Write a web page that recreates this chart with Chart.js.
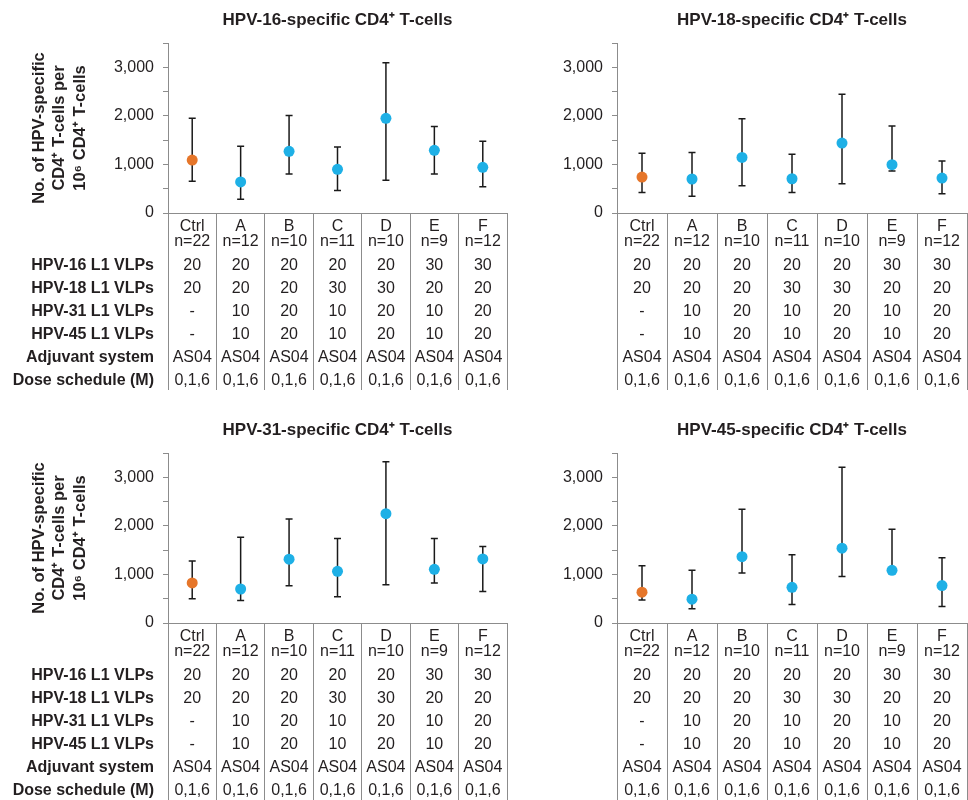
<!DOCTYPE html>
<html>
<head>
<meta charset="utf-8">
<script src="https://cdn.jsdelivr.net/npm/chart.js@4.4.1/dist/chart.umd.min.js"></script>
<style>
  body { margin: 0; background: #fff; overflow: hidden; }
  .panel { position: absolute; }
</style>
</head>
<body>
<div class="panel" style="left:0;top:0;width:540px;height:390px"><canvas id="c16"></canvas></div>
<div class="panel" style="left:540px;top:0;width:428px;height:390px"><canvas id="c18"></canvas></div>
<div class="panel" style="left:0;top:410px;width:540px;height:390px"><canvas id="c31"></canvas></div>
<div class="panel" style="left:540px;top:410px;width:428px;height:390px"><canvas id="c45"></canvas></div>
<script>
// groups and their sizes
const categories = ['Ctrl', 'A', 'B', 'C', 'D', 'E', 'F'];
const groupSizes = ['n=22', 'n=12', 'n=10', 'n=11', 'n=10', 'n=9', 'n=12'];

// formulation table under each panel
const rowLabels = ['HPV-16 L1 VLPs', 'HPV-18 L1 VLPs', 'HPV-31 L1 VLPs', 'HPV-45 L1 VLPs', 'Adjuvant system', 'Dose schedule (M)'];
const hpv16Dose = ['20', '20', '20', '20', '20', '30', '30'];
const hpv18Dose = ['20', '20', '20', '30', '30', '20', '20'];
const hpv31Dose = ['-', '10', '20', '10', '20', '10', '20'];
const hpv45Dose = ['-', '10', '20', '10', '20', '10', '20'];
const adjuvant = ['AS04', 'AS04', 'AS04', 'AS04', 'AS04', 'AS04', 'AS04'];
const schedule = ['0,1,6', '0,1,6', '0,1,6', '0,1,6', '0,1,6', '0,1,6', '0,1,6'];

// y axis
const yMin = 0;
const yMax = 3500;
const yStep = 500;
const yLabelEvery = 1000;
const yTitle = ['No. of HPV-specific', 'CD4\u207A T-cells per', '10\u2076 CD4\u207A T-cells'];

// HPV-16
const mean16 = [1090, 640, 1270, 900, 1950, 1290, 940];
const lower16 = [655, 285, 805, 465, 675, 805, 540];
const upper16 = [1950, 1375, 2005, 1360, 3095, 1780, 1475];
// HPV-18
const mean18 = [740, 700, 1145, 705, 1440, 995, 720];
const lower18 = [420, 345, 560, 420, 600, 865, 395];
const upper18 = [1230, 1245, 1940, 1210, 2445, 1790, 1070];
// HPV-31
const mean31 = [825, 700, 1315, 1065, 2250, 1105, 1320];
const lower31 = [500, 465, 765, 540, 785, 825, 650];
const upper31 = [1275, 1765, 2140, 1740, 3320, 1740, 1575];
// HPV-45
const mean45 = [635, 490, 1365, 735, 1540, 1085, 770];
const lower45 = [475, 295, 1030, 380, 955, 1050, 340];
const upper45 = [1180, 1085, 2340, 1405, 3205, 1930, 1345];

const FONT = "'Liberation Sans', Arial, sans-serif";
const TEXT = '#231f20';
const AXIS = '#8c8c8c';
const BLUE = '#1eb0e6';
const ORANGE = '#e6762a';

Chart.defaults.font.family = FONT;
Chart.defaults.color = TEXT;

const tableRows = [hpv16Dose, hpv18Dose, hpv31Dose, hpv45Dose, adjuvant, schedule];

function errorBars(lower, upper) {
  return {
    id: 'errorBars',
    beforeDatasetsDraw(chart) {
      const ctx = chart.ctx;
      const y = chart.scales.y;
      const pts = chart.getDatasetMeta(0).data;
      ctx.save();
      ctx.strokeStyle = '#1a1a1a';
      ctx.lineWidth = 1.5;
      pts.forEach(function (p, i) {
        const top = y.getPixelForValue(upper[i]);
        const bot = y.getPixelForValue(lower[i]);
        ctx.beginPath();
        ctx.moveTo(p.x, top); ctx.lineTo(p.x, bot);
        ctx.moveTo(p.x - 3.5, top); ctx.lineTo(p.x + 3.5, top);
        ctx.moveTo(p.x - 3.5, bot); ctx.lineTo(p.x + 3.5, bot);
        ctx.stroke();
      });
      ctx.restore();
    }
  };
}

function doseTable(showRowLabels) {
  return {
    id: 'doseTable',
    afterDraw(chart) {
      const ctx = chart.ctx;
      const x = chart.scales.x;
      const area = chart.chartArea;
      ctx.save();
      ctx.fillStyle = TEXT;
      ctx.textBaseline = 'middle';
      tableRows.forEach(function (row, r) {
        const ty = area.bottom + 53 + r * 23;
        ctx.font = '16px ' + FONT;
        ctx.textAlign = 'center';
        row.forEach(function (v, i) {
          ctx.fillText(v, x.getPixelForValue(i), ty);
        });
        if (showRowLabels) {
          ctx.font = 'bold 16px ' + FONT;
          ctx.textAlign = 'right';
          ctx.fillText(rowLabels[r], area.left - 14, ty);
        }
      });
      ctx.restore();
    }
  };
}

function makeChart(id, title, means, lower, upper, leftPanel) {
  const yWidth = leftPanel ? 168 : 77;
  const rightPad = leftPanel ? 33 : 1;
  return new Chart(document.getElementById(id), {
    type: 'line',
    data: {
      labels: categories.map(function (c, i) { return [c, groupSizes[i]]; }),
      datasets: [{
        data: means,
        showLine: false,
        pointRadius: 5.5,
        pointHoverRadius: 5.5,
        pointBorderWidth: 0,
        pointBackgroundColor: categories.map(function (c, i) { return i === 0 ? ORANGE : BLUE; })
      }]
    },
    options: {
      responsive: true,
      maintainAspectRatio: false,
      animation: false,
      events: [],
      layout: { autoPadding: false, padding: { left: 0, right: rightPad, top: 0, bottom: 0 } },
      plugins: {
        legend: { display: false },
        tooltip: { enabled: false },
        title: {
          display: true,
          text: title,
          fullSize: false,
          color: TEXT,
          font: { size: 17, weight: 'bold', lineHeight: '20px' },
          padding: { top: 10, bottom: 13 }
        }
      },
      scales: {
        x: {
          offset: true,
          border: { color: AXIS, width: 1 },
          grid: { offset: true, drawOnChartArea: false, drawTicks: true, tickLength: 177, color: AXIS, lineWidth: 1 },
          ticks: {
            autoSkip: false,
            maxRotation: 0,
            color: TEXT,
            padding: -170.5,
            font: { size: 16, lineHeight: '15px' }
          },
          afterFit: function (s) { s.height = 177; }
        },
        y: {
          min: yMin,
          max: yMax,
          border: { color: AXIS, width: 1 },
          grid: { drawOnChartArea: false, drawTicks: true, tickLength: 5, color: AXIS },
          ticks: {
            stepSize: yStep,
            padding: 9,
            color: TEXT,
            font: { size: 16 },
            callback: function (v) { return v % yLabelEvery === 0 ? v.toLocaleString('en-US') : ''; }
          },
          title: {
            display: leftPanel,
            text: yTitle,
            color: TEXT,
            font: { size: 16.5, weight: 'bold', lineHeight: '20.5px' },
            padding: { top: 29, bottom: 0 }
          },
          afterFit: function (s) { s.width = yWidth; }
        }
      }
    },
    plugins: [errorBars(lower, upper), doseTable(leftPanel)]
  });
}

makeChart('c16', 'HPV-16-specific CD4\u207A T-cells', mean16, lower16, upper16, true);
makeChart('c18', 'HPV-18-specific CD4\u207A T-cells', mean18, lower18, upper18, false);
makeChart('c31', 'HPV-31-specific CD4\u207A T-cells', mean31, lower31, upper31, true);
makeChart('c45', 'HPV-45-specific CD4\u207A T-cells', mean45, lower45, upper45, false);
</script>
</body>
</html>
